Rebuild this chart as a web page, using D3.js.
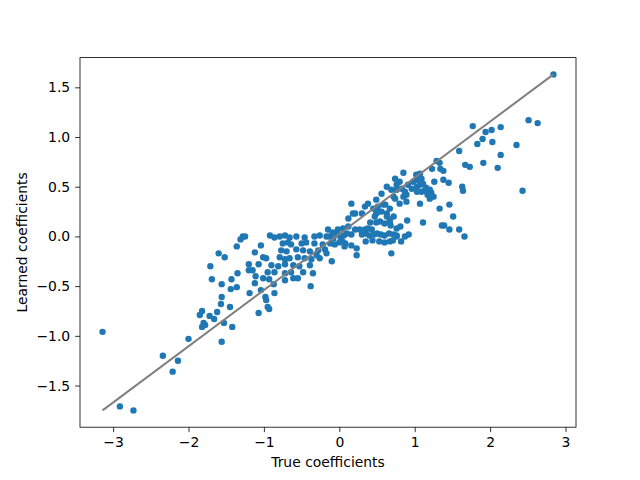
<!DOCTYPE html>
<html>
<head>
<meta charset="utf-8">
<script src="https://cdn.jsdelivr.net/npm/d3@7"></script>
<style>
  body { margin: 0; background: #fff; }
  text { font-family: "DejaVu Sans", sans-serif; fill: #000; }
</style>
</head>
<body>
<div id="chart"></div>
<script>
// Each line of trueCoef pairs with the same line of learnedCoef
const trueCoef = [
  -3.14, -2.91, -2.73, -2.34, -2.21, -2.14, -2.00, -1.85, -1.82, -1.82,
  -1.80, -1.78, -1.72, -1.66, -1.62, -1.57, -1.56, -1.53, -1.45, -1.42,
  -1.71, -1.69, -1.60, -1.56, -1.56, -1.52, -1.44, -1.43, -1.36, -1.36,
  -1.35, -1.31, -1.28, -1.25, -1.20, -1.20, -1.19, -1.15, -1.12, -1.12,
  -1.11, -1.07, -1.07, -1.04, -1.04, -1.01, -1.01, -0.98, -0.97, -0.95,
  -0.93, -0.93, -0.87, -0.86,
  -0.92, -0.86, -0.79, -0.72, -0.66, -0.57, -0.46, -0.33, -0.26, -0.17,
  -0.75, -0.68, -0.64, -0.50, -0.44, -0.33, -0.22,
  -0.77, -0.70, -0.57, -0.48, -0.39, -0.28, -0.19,
  -0.97, -0.79, -0.72, -0.66, -0.55, -0.46, -0.37, -0.26,
  -0.90, -0.81, -0.72, -0.61, -0.53, -0.39,
  -0.95, -0.86, -0.72, -0.64, -0.48,
  -0.61, -0.55, -0.72,
  -0.35, -0.38, -0.30, -0.17, -0.10, -0.13, -0.08, -0.15, -0.02, 0.05,
  0.12, 0.12, 0.18, 0.16, 0.21, 0.10, 0.16, 0.21, 0.07, 0.16,
  0.23, 0.23, -0.12, -0.06, 0.00, 0.04, 0.08, -0.03, 0.02, -0.09,
  0.06,
  0.30, 0.35, 0.40, 0.46, 0.50, 0.55, 0.60, 0.66, 0.72, 0.76,
  0.27, 0.34, 0.38, 0.43,
  0.35, 0.44, 0.53, 0.60, 0.67, 0.71, 0.82,
  0.41, 0.49, 0.54, 0.60, 0.67,
  0.30, 0.34, 0.38, 0.45, 0.49, 0.56, 0.63, 0.51, 0.58, 0.67,
  0.56, 0.63, 0.69, 0.74, 0.76, 0.49, 0.69,
  0.80, 0.63, 0.47, 0.72, 0.67, 0.61, 0.52,
  1.77, 1.83, 1.59, 1.67, 1.73, 1.29, 1.33, 1.23, 1.34, 1.38,
  0.85, 1.02, 1.07, 1.09, 1.03, 0.98, 0.74, 0.80, 1.26, 1.38,
  1.45, 0.76, 0.83, 0.87, 0.91, 0.96, 0.72, 0.85, 0.89,
  1.03, 1.07, 1.11, 1.15, 1.20, 1.22, 1.17, 1.09, 1.03, 1.13,
  1.20, 1.25, 1.07, 1.33, 1.46, 1.63, 1.64, 1.51, 1.36, 1.39,
  1.46, 1.59, 1.66, 1.11, 0.90,
  0.81, 0.76, 0.68, 0.76, 0.87, 0.92, 0.89,
  2.84, 2.51, 2.63, 1.94, 2.02, 2.14, 1.90, 2.03, 2.35, 2.14,
  1.91, 2.10, 2.43
];
const learnedCoef = [
  -0.96, -1.71, -1.75, -1.20, -1.36, -1.25, -1.03, -0.79, -0.75, -0.91,
  -0.87, -0.89, -0.80, -0.83, -0.76, -0.68, -1.06, -0.87, -0.71, -0.91,
  -0.30, -0.43, -0.17, -0.48, -0.61, -0.21, -0.53, -0.43, -0.10, -0.51,
  -0.37, -0.03, 0.00, 0.00, -0.28, -0.34, -0.57, -0.34, -0.16, -0.47,
  -0.40, -0.28, -0.77, -0.09, -0.54, -0.21, -0.42, -0.61, -0.64, -0.71,
  -0.73, -0.43, -0.48, -0.57,
  0.01, -0.01, 0.00, 0.01, -0.01, 0.00, -0.01, 0.00, 0.01, 0.00,
  -0.07, -0.06, -0.08, -0.07, -0.06, -0.07, -0.08,
  -0.14, -0.15, -0.13, -0.14, -0.15, -0.14, -0.13,
  -0.22, -0.21, -0.23, -0.22, -0.21, -0.22, -0.23, -0.22,
  -0.29, -0.30, -0.28, -0.29, -0.30, -0.29,
  -0.36, -0.36, -0.37, -0.36, -0.36,
  -0.42, -0.42, -0.44,
  -0.37, -0.50, -0.19, -0.17, -0.25, 0.00, -0.02, 0.07, 0.07, 0.08,
  0.10, 0.18, 0.23, 0.33, 0.23, 0.03, 0.02, 0.07, -0.10, -0.09,
  -0.12, -0.19, -0.07, -0.08, -0.06, -0.05, -0.07, 0.02, -0.01, 0.04,
  0.01,
  0.02, 0.03, 0.01, 0.02, 0.03, 0.02, 0.01, 0.03, 0.02, 0.01,
  0.07, 0.07, 0.08, 0.07,
  -0.05, -0.04, -0.05, -0.06, -0.05, -0.04, -0.05,
  0.14, 0.14, 0.15, 0.13, 0.14,
  0.23, 0.30, 0.33, 0.28, 0.23, 0.25, 0.23, 0.30, 0.32, 0.28,
  0.43, 0.50, 0.47, 0.38, 0.52, 0.37, -0.17,
  0.33, 0.20, 0.20, 0.20, 0.17, 0.32, 0.25,
  1.11, 0.93, 0.86, 0.72, 0.70, 0.76, 0.74, 0.68, 0.68, 0.66,
  0.64, 0.62, 0.63, 0.58, 0.57, 0.55, 0.58, 0.55, 0.55, 0.57,
  0.54, 0.47, 0.48, 0.45, 0.52, 0.48, 0.40, 0.40, 0.42,
  0.50, 0.52, 0.53, 0.49, 0.47, 0.44, 0.42, 0.45, 0.45, 0.46,
  0.38, 0.40, 0.33, 0.28, 0.32, 0.50, 0.46, 0.20, 0.11, 0.11,
  0.07, 0.07, 0.00, 0.14, 0.16,
  0.10, 0.08, 0.11, 0.00, 0.00, 0.02, 0.35,
  1.63, 1.17, 1.14, 1.05, 1.07, 1.10, 0.98, 0.95, 0.92, 0.82,
  0.74, 0.69, 0.46
];
const xTicks = [-3, -2, -1, 0, 1, 2, 3];
const yTicks = [-1.5, -1.0, -0.5, 0.0, 0.5, 1.0, 1.5];
const xLabel = "True coefficients";
const yLabel = "Learned coefficients";

const W = 640, H = 480;
const margin = { top: 57.6, right: 64, bottom: 52.8, left: 80 };
const width = W - margin.left - margin.right;
const height = H - margin.top - margin.bottom;

const points = trueCoef.map((d, i) => ({ x: d, y: learnedCoef[i] }));

// matplotlib style 5% margins
function padded(ext) {
  const p = (ext[1] - ext[0]) * 0.05;
  return [ext[0] - p, ext[1] + p];
}

const x = d3.scaleLinear().domain(padded(d3.extent(trueCoef))).range([0, width]);
const y = d3.scaleLinear().domain(padded(d3.extent(learnedCoef))).range([height, 0]);

const svg = d3.select("#chart").append("svg")
  .attr("width", W)
  .attr("height", H);

const g = svg.append("g")
  .attr("transform", `translate(${margin.left},${margin.top})`);

// points
g.selectAll(".dot")
  .data(points)
  .join("circle")
  .attr("class", "dot")
  .attr("cx", d => x(d.x))
  .attr("cy", d => y(d.y))
  .attr("r", 3.2)
  .attr("fill", "#1f77b4");

// reference line from min to max
g.append("line")
  .attr("x1", x(d3.min(trueCoef)))
  .attr("y1", y(d3.min(learnedCoef)))
  .attr("x2", x(d3.max(trueCoef)))
  .attr("y2", y(d3.max(learnedCoef)))
  .attr("stroke", "gray")
  .attr("stroke-width", 2);

const fmtMinus = s => s.replace("-", "\u2212");

const xAxis = d3.axisBottom(x)
  .tickValues(xTicks)
  .tickSize(4.9)
  .tickPadding(4.9)
  .tickFormat(d => fmtMinus(d3.format("d")(d)));
const yAxis = d3.axisLeft(y)
  .tickValues(yTicks)
  .tickSize(4.9)
  .tickPadding(4.9)
  .tickFormat(d => fmtMinus(d3.format(".1f")(d)));

const xg = g.append("g")
  .attr("transform", `translate(0,${height})`)
  .call(xAxis);
const yg = g.append("g").call(yAxis);

[xg, yg].forEach(a => {
  a.select(".domain").remove();
  a.selectAll("line").attr("stroke", "#000").attr("stroke-width", 0.8);
  a.selectAll("text")
    .style("font-family", "DejaVu Sans")
    .style("font-size", "13.9px")
    .attr("fill", "#000");
});

// frame
g.append("rect")
  .attr("width", width)
  .attr("height", height)
  .attr("fill", "none")
  .attr("stroke", "#000")
  .attr("stroke-width", 0.8);

// axis labels
svg.append("text")
  .attr("x", margin.left + width / 2)
  .attr("y", 467)
  .attr("text-anchor", "middle")
  .style("font-size", "13.9px")
  .text(xLabel);

svg.append("text")
  .attr("transform", `translate(27,${margin.top + height / 2}) rotate(-90)`)
  .attr("text-anchor", "middle")
  .style("font-size", "13.9px")
  .text(yLabel);
</script>
</body>
</html>
